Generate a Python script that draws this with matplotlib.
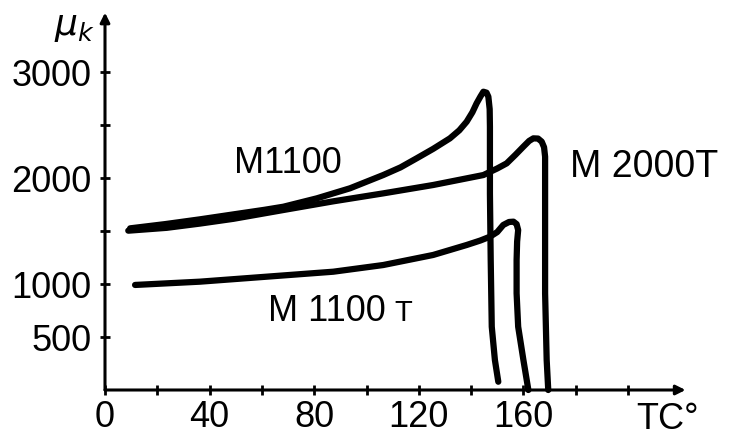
import matplotlib
matplotlib.use("Agg")
import matplotlib.pyplot as plt

plt.rcParams['font.family'] = ['Liberation Sans', 'DejaVu Sans']

# --- data ---
m1100_x = [9.6, 23.0, 36.3, 50.0, 61.0, 68.2, 81.0, 93.7, 106.4, 113.0, 119.2, 125.5, 131.9, 135.5, 138.3, 140.5, 142.1, 143.6, 144.7, 145.9, 146.6, 147.1, 147.2, 147.2, 147.5, 147.9, 149.1, 150.4]
m1100_y = [1525, 1565, 1610, 1660, 1700, 1729, 1808, 1903, 2028, 2100, 2186, 2275, 2374, 2450, 2531, 2620, 2704, 2770, 2814, 2805, 2767, 2650, 2484, 1855, 1226, 597, 283, 78]

m2000t_x = [8.9, 23.6, 36.3, 49.1, 68.2, 87.3, 106.4, 125.5, 144.7, 150.0, 153.6, 157.0, 160.0, 162.2, 163.8, 165.6, 167.0, 167.9, 168.3, 168.3, 168.3, 168.9, 169.5]
m2000t_y = [1503, 1530, 1570, 1615, 1698, 1780, 1855, 1934, 2028, 2090, 2138, 2220, 2296, 2350, 2374, 2372, 2343, 2290, 2201, 1541, 912, 283, 0]

m1100t_x = [11.5, 36.3, 61.8, 87.3, 106.4, 125.5, 138.3, 143.5, 147.2, 150.0, 152.3, 154.5, 156.2, 157.4, 158.0, 157.6, 157.4, 157.4, 158.0, 160.0, 161.9]
m1100t_y = [991, 1022, 1069, 1116, 1179, 1274, 1368, 1410, 1446, 1490, 1557, 1585, 1588, 1565, 1509, 1400, 1226, 912, 597, 283, 0]

x_ticks = [0, 20, 40, 60, 80, 100, 120, 140, 160, 180, 200]
x_tick_labels = ['0', '', '40', '', '80', '', '120', '', '160', '', '']
y_ticks = [500, 1000, 1500, 2000, 2500, 3000]
y_tick_labels = ['500', '1000', '', '2000', '', '3000']

fig = plt.figure(figsize=(7.29, 4.40), dpi=100)
W, H = 729, 440
x0, y0 = 105, 390
xmax, ymax = 230, 3600
ax = fig.add_axes([x0 / W, (H - y0) / H, xmax * 2.615 / W, ymax * 0.106 / H])
ax.set_xlim(0, xmax)
ax.set_ylim(0, ymax)

lw = 4.5
for xs, ys in [(m1100_x, m1100_y), (m2000t_x, m2000t_y), (m1100t_x, m1100t_y)]:
    ax.plot(xs, ys, color='black', lw=lw, solid_capstyle='round', solid_joinstyle='round', clip_on=False)

# axes with arrows
for s in ax.spines.values():
    s.set_visible(False)
ax.annotate('', xy=(222, 0), xytext=(0, 0), annotation_clip=False,
            arrowprops=dict(arrowstyle='-|>', lw=2.2, color='black', mutation_scale=14, shrinkA=0, shrinkB=0))
ax.annotate('', xy=(0, 3560), xytext=(0, 0), annotation_clip=False,
            arrowprops=dict(arrowstyle='-|>', lw=2.2, color='black', mutation_scale=14, shrinkA=0, shrinkB=0))

ax.set_xticks(x_ticks)
ax.set_xticklabels(x_tick_labels)
ax.set_yticks(y_ticks)
ax.set_yticklabels(y_tick_labels)
ax.tick_params(axis='both', direction='inout', length=7, width=2, labelsize=26, color='black')
ax.tick_params(axis='x', pad=4)
ax.tick_params(axis='y', pad=6)

# labels
ax.text(215, -283, 'TC°', fontsize=26, ha='center', va='center', clip_on=False)
ax.text(-11.5, 3430, r'$\mu_k$', fontsize=26, ha='center', va='center', clip_on=False)

ax.text(70, 2141, 'M1100', fontsize=26, ha='center', va='center')
ax.text(85, 650, 'M 1100', fontsize=26, ha='center', va='baseline')
ax.text(114, 650, 'T', fontsize=21, ha='center', va='baseline')
ax.text(206, 2104, 'M 2000T', fontsize=27, ha='center', va='center', clip_on=False)

fig.savefig('out.png', dpi=100)
